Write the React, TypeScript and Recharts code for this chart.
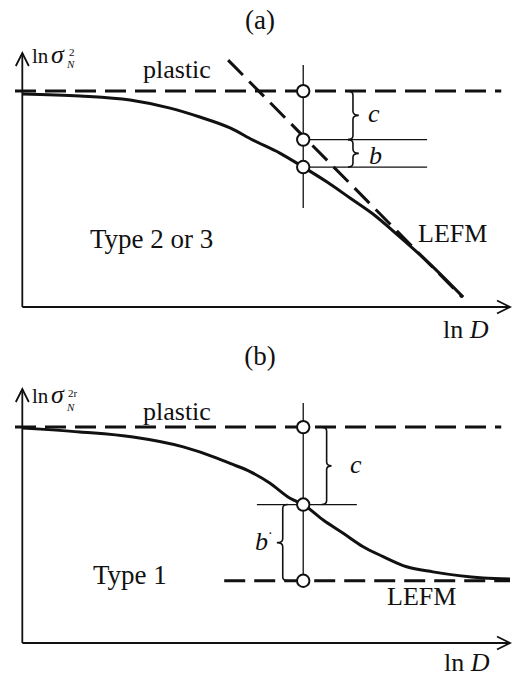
import { ComposedChart, Line, Scatter, XAxis, YAxis, ReferenceLine, ReferenceArea } from 'recharts';

const FONT = '"Liberation Serif", "Times New Roman", serif';
const INK = '#111';

// shared
const plasticX = [-0.15, 9.82];
const plasticLevel = 8.5;

// panel (a): Type 2 or 3
const curveAX = [0, 1.18, 2.21, 3.03, 3.64, 4.26, 4.73, 5.28, 5.76, 6.25, 6.72, 7.19, 7.74, 8.36, 9.04];
const curveAY = [8.39, 8.31, 8.15, 7.83, 7.48, 7.05, 6.57, 6.06, 5.51, 4.92, 4.29, 3.66, 2.76, 1.69, 0.39];
const lefmAX = [4.22, 9.02];
const lefmAY = [9.72, 0.39];
const markAX = 5.76;
const markAY = [3.9, 9.53];
const circlesAY = [8.5, 6.59, 5.51];
const hLinesAX = [5.76, 8.3];
const braceAX = [6.78, 6.9];

// panel (b): Type 1
const curveBX = [0, 1.18, 2.27, 3.3, 3.99, 4.26, 4.67, 5.08, 5.49, 5.76, 6.17, 6.58, 6.99, 7.4, 7.88, 8.42, 9.45, 10];
const curveBY = [8.46, 8.31, 8.11, 7.72, 7.28, 7.07, 6.75, 6.29, 5.7, 5.45, 4.84, 4.32, 3.79, 3.4, 3.0, 2.8, 2.56, 2.52];
const lefmBX = [4.14, 10];
const lefmBLevel = 2.45;
const markBX = 5.76;
const markBY = [2.45, 9.45];
const circlesBY = [8.5, 5.45, 2.45];
const hLineBX = [4.81, 6.86];
const braceBcX = [6.24, 6.34];
const braceBbX = [5.22, 5.34];

const zip = (xs: number[], ys: number[]) => xs.map((x, i) => ({ x, y: ys[i] }));

const ArrowLine = (props: any) => {
  const { x1, y1, x2, y2 } = props;
  const a = Math.atan2(y2 - y1, x2 - x1);
  const L = 13;
  const W = 6.5;
  const bx = x2 - L * Math.cos(a);
  const by = y2 - L * Math.sin(a);
  const px = -Math.sin(a) * W;
  const py = Math.cos(a) * W;
  return (
    <g>
      <line x1={x1} y1={y1} x2={x2} y2={y2} stroke={INK} strokeWidth={1.8} />
      <polyline
        points={`${bx + px},${by + py} ${x2},${y2} ${bx - px},${by - py}`}
        fill="none"
        stroke={INK}
        strokeWidth={1.8}
      />
    </g>
  );
};

// curly brace, tip pointing right (dir 1) or left (dir -1)
const brace = (dir: number) => (props: any) => {
  const { x, y, width, height } = props;
  const sx = dir === 1 ? x : x + width;
  const tx = dir === 1 ? x + width : x;
  const top = y;
  const bot = y + height;
  const mid = y + height / 2;
  const h = 4;
  const k = -dir * 5;
  const d = `M ${sx + k} ${top} Q ${sx} ${top} ${sx} ${top + h} L ${sx} ${mid - h} Q ${sx} ${mid} ${tx} ${mid} Q ${sx} ${mid} ${sx} ${mid + h} L ${sx} ${bot - h} Q ${sx} ${bot} ${sx + k} ${bot}`;
  return <path d={d} fill="none" stroke={INK} strokeWidth={1.6} />;
};

const Ring = (p: any) => <circle cx={p.cx} cy={p.cy} r={6.2} fill="#fff" stroke={INK} strokeWidth={2} />;

const txt = { fontFamily: FONT, fill: INK };

const W = 513;
const H = 345;
const margin = { top: 53, right: 3, bottom: 38, left: 15 };

const PanelA = () => (
  <ComposedChart width={W} height={H} margin={margin}>
    <XAxis dataKey="x" type="number" domain={[-0.15, 10]} hide />
    <YAxis dataKey="y" type="number" domain={[0, 10]} hide />
    <ReferenceLine segment={[{ x: 0, y: 0 }, { x: 0, y: 10 }]} ifOverflow="visible" shape={ArrowLine} />
    <ReferenceLine segment={[{ x: 0, y: 0 }, { x: 10, y: 0 }]} ifOverflow="visible" shape={ArrowLine} />
    <ReferenceLine segment={[{ x: markAX, y: markAY[0] }, { x: markAX, y: markAY[1] }]} stroke={INK} strokeWidth={1.3} ifOverflow="visible" />
    <ReferenceLine segment={[{ x: hLinesAX[0], y: circlesAY[1] }, { x: hLinesAX[1], y: circlesAY[1] }]} stroke={INK} strokeWidth={1.3} ifOverflow="visible" />
    <ReferenceLine segment={[{ x: hLinesAX[0], y: circlesAY[2] }, { x: hLinesAX[1], y: circlesAY[2] }]} stroke={INK} strokeWidth={1.3} ifOverflow="visible" />
    <ReferenceArea x1={braceAX[0]} x2={braceAX[1]} y1={circlesAY[0]} y2={circlesAY[1]} shape={brace(1)} ifOverflow="visible" />
    <ReferenceArea x1={braceAX[0]} x2={braceAX[1]} y1={circlesAY[1]} y2={circlesAY[2]} shape={brace(1)} ifOverflow="visible" />
    <Line data={zip(plasticX, [plasticLevel, plasticLevel])} dataKey="y" type="linear" stroke={INK} strokeWidth={3} strokeDasharray="21 9" dot={false} isAnimationActive={false} />
    <Line data={zip(lefmAX, lefmAY)} dataKey="y" type="linear" stroke={INK} strokeWidth={3} strokeDasharray="21 9" dot={false} isAnimationActive={false} />
    <Line data={zip(curveAX, curveAY)} dataKey="y" type="monotone" stroke={INK} strokeWidth={3} dot={false} isAnimationActive={false} />
    <Scatter data={circlesAY.map((y) => ({ x: markAX, y }))} dataKey="y" shape={Ring} isAnimationActive={false} />
    <text x={260} y={29} textAnchor="middle" fontSize={27} {...txt}>(a)</text>
    <text x={32} y={63} fontSize={21} {...txt}>
      ln
      <tspan x={51} fontStyle="italic" fontSize={26}>σ</tspan>
      <tspan x={67} y={68} fontStyle="italic" fontSize={11}>N</tspan>
      <tspan x={69} y={56} fontSize={11}>2</tspan>
    </text>
    <text x={143} y={78} fontSize={26} {...txt}>plastic</text>
    <text x={368} y={122} fontSize={26} fontStyle="italic" {...txt}>c</text>
    <text x={369} y={164} fontSize={26} fontStyle="italic" {...txt}>b</text>
    <text x={418} y={242} fontSize={26} {...txt}>LEFM</text>
    <text x={90} y={248} fontSize={27} {...txt}>Type 2 or 3</text>
    <text x={443} y={338} fontSize={26} {...txt}>
      ln <tspan fontStyle="italic">D</tspan>
    </text>
  </ComposedChart>
);

const PanelB = () => (
  <ComposedChart width={W} height={H - 3} margin={{ ...margin, bottom: 35 }}>
    <XAxis dataKey="x" type="number" domain={[-0.15, 10]} hide />
    <YAxis dataKey="y" type="number" domain={[0, 10]} hide />
    <ReferenceLine segment={[{ x: 0, y: 0 }, { x: 0, y: 10 }]} ifOverflow="visible" shape={ArrowLine} />
    <ReferenceLine segment={[{ x: 0, y: 0 }, { x: 10, y: 0 }]} ifOverflow="visible" shape={ArrowLine} />
    <ReferenceLine segment={[{ x: markBX, y: markBY[0] }, { x: markBX, y: markBY[1] }]} stroke={INK} strokeWidth={1.3} ifOverflow="visible" />
    <ReferenceLine segment={[{ x: hLineBX[0], y: circlesBY[1] }, { x: hLineBX[1], y: circlesBY[1] }]} stroke={INK} strokeWidth={1.3} ifOverflow="visible" />
    <ReferenceArea x1={braceBcX[0]} x2={braceBcX[1]} y1={circlesBY[0]} y2={circlesBY[1]} shape={brace(1)} ifOverflow="visible" />
    <ReferenceArea x1={braceBbX[0]} x2={braceBbX[1]} y1={circlesBY[1]} y2={circlesBY[2]} shape={brace(-1)} ifOverflow="visible" />
    <Line data={zip(plasticX, [plasticLevel, plasticLevel])} dataKey="y" type="linear" stroke={INK} strokeWidth={3} strokeDasharray="21 9" dot={false} isAnimationActive={false} />
    <Line data={zip(lefmBX, [lefmBLevel, lefmBLevel])} dataKey="y" type="linear" stroke={INK} strokeWidth={3} strokeDasharray="21 9" dot={false} isAnimationActive={false} />
    <Line data={zip(curveBX, curveBY)} dataKey="y" type="monotone" stroke={INK} strokeWidth={3} dot={false} isAnimationActive={false} />
    <Scatter data={circlesBY.map((y) => ({ x: markBX, y }))} dataKey="y" shape={Ring} isAnimationActive={false} />
    <text x={260} y={29} textAnchor="middle" fontSize={27} {...txt}>(b)</text>
    <text x={32} y={67} fontSize={21} {...txt}>
      ln
      <tspan x={51} fontStyle="italic" fontSize={26}>σ</tspan>
      <tspan x={67} y={75} fontStyle="italic" fontSize={11}>N</tspan>
      <tspan x={68} y={61} fontSize={11}>2r</tspan>
    </text>
    <text x={143} y={84} fontSize={26} {...txt}>plastic</text>
    <text x={350} y={137} fontSize={26} fontStyle="italic" {...txt}>c</text>
    <text x={255} y={214} fontSize={26} fontStyle="italic" {...txt}>
      b<tspan fontSize={14} dy={-12} fontStyle="normal">·</tspan>
    </text>
    <text x={93} y={248} fontSize={27} {...txt}>Type 1</text>
    <text x={387} y={269} fontSize={26} {...txt}>LEFM</text>
    <text x={444} y={335} fontSize={26} {...txt}>
      ln <tspan fontStyle="italic">D</tspan>
    </text>
  </ComposedChart>
);

export default function App() {
  return (
    <div style={{ position: 'absolute', left: 0, top: 0, width: 513, height: 678, background: '#fff' }}>
      <div style={{ position: 'absolute', left: 0, top: 0 }}>
        <PanelA />
      </div>
      <div style={{ position: 'absolute', left: 0, top: 336 }}>
        <PanelB />
      </div>
    </div>
  );
}
